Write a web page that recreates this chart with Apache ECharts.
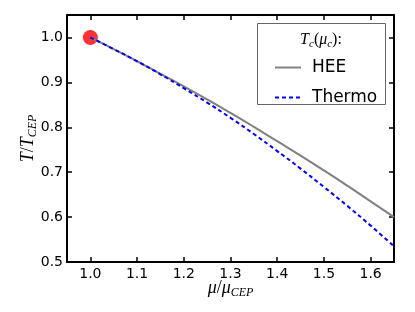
<!DOCTYPE html>
<html><head><meta charset="utf-8">
<script src="https://cdn.jsdelivr.net/npm/echarts@6/dist/echarts.min.js"></script>
<style>html,body{margin:0;padding:0;background:#fff}#c{width:415px;height:312px}</style>
</head><body><div id="c"></div>
<script>
const muValues = [1.00, 1.05, 1.10, 1.15, 1.20, 1.25, 1.30, 1.35, 1.40, 1.45, 1.50, 1.55, 1.60, 1.65];
const heeValues = [1.000, 0.974, 0.947, 0.919, 0.891, 0.862, 0.832, 0.801, 0.769, 0.737, 0.704, 0.670, 0.635, 0.600];
const thermoValues = [1.000, 0.974, 0.947, 0.918, 0.887, 0.855, 0.821, 0.785, 0.747, 0.708, 0.667, 0.625, 0.581, 0.535];
const cepPoint = [1.0, 1.0];
const xTicks = [1.0, 1.1, 1.2, 1.3, 1.4, 1.5, 1.6];
const yTicks = [0.5, 0.6, 0.7, 0.8, 0.9, 1.0];
const seriesNames = ['HEE', 'Thermo'];

const MATH = 'Liberation Serif';
const SANS = 'DejaVu Sans';
const mathRich = {
  m: {fontFamily: MATH, fontStyle: 'italic', fontSize: 18, color: '#000', lineHeight: 22, verticalAlign: 'middle'},
  u: {fontFamily: MATH, fontSize: 18, color: '#000', lineHeight: 22, verticalAlign: 'middle'},
  s: {fontFamily: MATH, fontStyle: 'italic', fontSize: 12, color: '#000', lineHeight: 12, verticalAlign: 'bottom'}
};

function pairs(xs, ys) { return xs.map((x, i) => [x, ys[i]]); }

const axisCommon = {
  type: 'value',
  axisLine: {show: true, onZero: false, lineStyle: {color: '#000', width: 2}},
  splitLine: {show: false}
};

const chart = echarts.init(document.getElementById('c'), null, {renderer: 'canvas'});
chart.setOption({
  animation: false,
  backgroundColor: '#fff',
  grid: {left: 67, right: 21, top: 15, bottom: 50, containLabel: false},
  xAxis: [
    Object.assign({}, axisCommon, {
      position: 'bottom', min: 0.95, max: 1.65,
      axisTick: {show: true, inside: true, length: 5, lineStyle: {color: '#000', width: 1.5}, customValues: xTicks},
      axisLabel: {show: true, customValues: xTicks, formatter: v => v.toFixed(1), color: '#000', fontFamily: SANS, fontSize: 14, margin: 5},
      name: '{m|μ}{u|/}{m|μ}{s|CEP}', nameLocation: 'middle', nameGap: 15, nameMoveOverlap: false,
      nameTextStyle: {rich: mathRich}
    }),
    Object.assign({}, axisCommon, {
      position: 'top', min: 0.95, max: 1.65,
      axisTick: {show: true, inside: true, length: 5, lineStyle: {color: '#000', width: 1.5}, customValues: xTicks},
      axisLabel: {show: false}
    })
  ],
  yAxis: [
    Object.assign({}, axisCommon, {
      position: 'left', min: 0.5, max: 1.05,
      axisTick: {show: true, inside: true, length: 5, lineStyle: {color: '#000', width: 1.5}, customValues: yTicks},
      axisLabel: {show: true, customValues: yTicks, formatter: v => v.toFixed(1), color: '#000', fontFamily: SANS, fontSize: 14, margin: 4},
      name: '{m|T}{u|/}{m|T}{s|CEP}', nameLocation: 'middle', nameGap: 28, nameMoveOverlap: false,
      nameTextStyle: {rich: mathRich}
    }),
    Object.assign({}, axisCommon, {
      position: 'right', min: 0.5, max: 1.05,
      axisTick: {show: true, inside: true, length: 5, lineStyle: {color: '#000', width: 1.5}, customValues: yTicks},
      axisLabel: {show: false}
    })
  ],
  legend: {
    data: seriesNames,
    orient: 'vertical',
    left: 269, top: 54,
    itemWidth: 26, itemHeight: 14, itemGap: 13,
    itemStyle: {opacity: 0, borderWidth: 0},
    textStyle: {color: '#000', fontFamily: SANS, fontSize: 17, padding: [0, 0, 0, 6]},
    z: 5
  },
  graphic: [
    {type: 'rect', z: 3, shape: {x: 257.5, y: 23.5, width: 128, height: 81}, style: {fill: '#fff', stroke: '#666', lineWidth: 1}},
    {type: 'text', z: 4, x: 321, y: 40, style: {
      text: '{m|T}{s|c}{u|(}{m|μ}{s|c}{u|):}', rich: {
        m: {fontFamily: MATH, fontStyle: 'italic', fontSize: 16, color: '#000', lineHeight: 20, verticalAlign: 'middle'},
        u: {fontFamily: MATH, fontSize: 16, color: '#000', lineHeight: 20, verticalAlign: 'middle'},
        s: {fontFamily: MATH, fontStyle: 'italic', fontSize: 11, color: '#000', lineHeight: 11, verticalAlign: 'bottom'}
      }, align: 'center', verticalAlign: 'middle'}}
  ],
  series: [
    {type: 'scatter', name: 'CEP', data: [cepPoint], symbolSize: 15, itemStyle: {color: '#ff0000'}, z: 1, xAxisIndex: 0, yAxisIndex: 0},
    {type: 'line', name: seriesNames[0], data: pairs(muValues, heeValues), symbol: 'none', smooth: true,
      lineStyle: {color: '#808080', width: 2}, itemStyle: {color: '#808080'}, z: 3},
    {type: 'line', name: seriesNames[1], data: pairs(muValues, thermoValues), symbol: 'none', smooth: true,
      lineStyle: {color: '#0000ff', width: 2, type: [4, 3]}, itemStyle: {color: '#0000ff'}, z: 4}
  ]
});
</script></body></html>
